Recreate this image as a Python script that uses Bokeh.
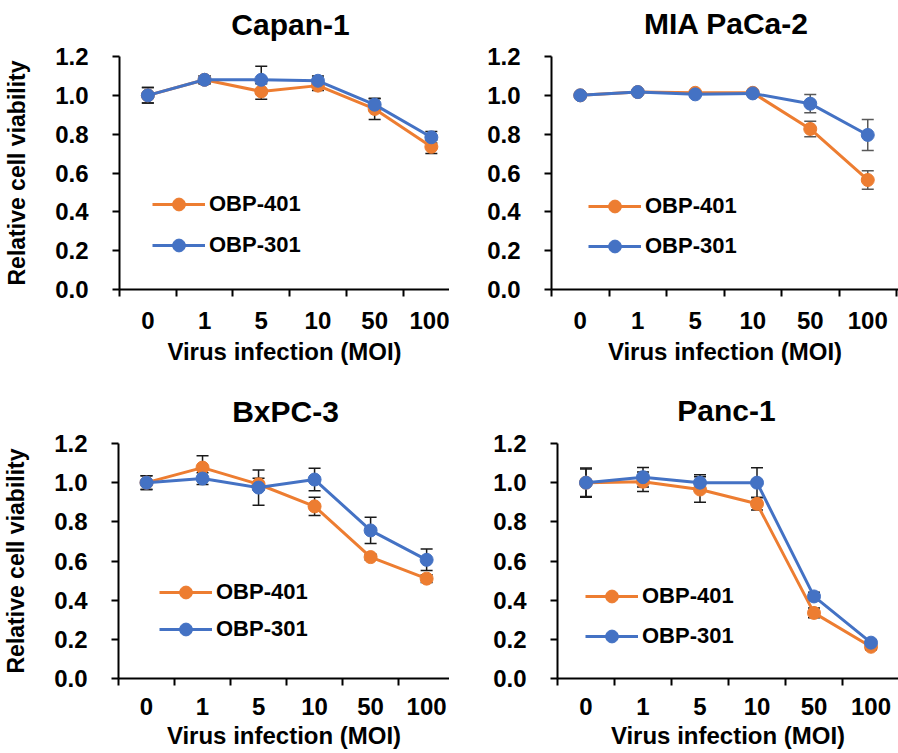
from bokeh.plotting import figure
from bokeh.models import (FixedTicker, Range1d, Legend, LegendItem, Whisker,
                          ColumnDataSource, TeeHead, PrintfTickFormatter, Label)
from bokeh.layouts import column, row
from bokeh.embed import file_html
from bokeh.resources import INLINE

# ---------------- data ----------------
moi_labels = ["0", "1", "5", "10", "50", "100"]
series_names = ["OBP-401", "OBP-301"]
y_ticks = [0.0, 0.2, 0.4, 0.6, 0.8, 1.0, 1.2]
y_max = 1.2

capan1_obp401 = [1.00, 1.08, 1.02, 1.05, 0.93, 0.735]
capan1_obp401_err = [0.04, 0.02, 0.04, 0.025, 0.055, 0.035]
capan1_obp301 = [1.00, 1.08, 1.08, 1.075, 0.952, 0.784]
capan1_obp301_err = [0.04, 0.02, 0.07, 0.025, 0.03, 0.03]

mia_obp401 = [1.00, 1.017, 1.013, 1.013, 0.827, 0.564]
mia_obp401_err = [0.01, 0.01, 0.01, 0.01, 0.04, 0.048]
mia_obp301 = [1.00, 1.017, 1.005, 1.01, 0.957, 0.796]
mia_obp301_err = [0.01, 0.01, 0.01, 0.01, 0.047, 0.08]

bxpc3_obp401 = [1.00, 1.077, 0.992, 0.879, 0.62, 0.51]
bxpc3_obp401_err = [0.035, 0.06, 0.03, 0.047, 0.015, 0.02]
bxpc3_obp301 = [1.00, 1.021, 0.975, 1.016, 0.756, 0.606]
bxpc3_obp301_err = [0.035, 0.03, 0.09, 0.057, 0.067, 0.055]

panc1_obp401 = [1.00, 1.005, 0.965, 0.892, 0.335, 0.162]
panc1_obp401_err = [0.075, 0.05, 0.065, 0.032, 0.025, 0.015]
panc1_obp301 = [1.00, 1.028, 1.00, 1.00, 0.419, 0.183]
panc1_obp301_err = [0.07, 0.05, 0.04, 0.076, 0.022, 0.015]

# ---------------- style ----------------
FONT = "Liberation Sans"
ORANGE = "#ED7D31"
BLUE = "#4472C4"


def make_title(text, width, height, x, y):
    t = figure(width=width, height=height, x_range=Range1d(0, 1), y_range=Range1d(0, 1),
               output_backend="svg", toolbar_location=None, title=None,
               x_axis_location=None, y_axis_location=None,
               min_border_left=0, min_border_right=0, min_border_top=0, min_border_bottom=0)
    t.outline_line_color = None
    t.xgrid.visible = False
    t.ygrid.visible = False
    t.add_layout(Label(x=x, y=y, x_units="screen", y_units="screen",
                       text=text, text_align="center", text_baseline="alphabetic",
                       text_font=FONT, text_font_style="bold", text_font_size="30px",
                       text_color="black"))
    return t


def make_panel(y401, e401, y301, e301, width, height, bl, bt, bb,
               cat_w, ylabel, leg_xy, leg_spacing, err_color,
               tick_standoff=15, xlab_standoff=6):
    frame_w = width - bl
    x_end = frame_w / cat_w
    p = figure(width=width, height=height,
               x_range=Range1d(0, x_end), y_range=Range1d(0, y_max),
               output_backend="svg", toolbar_location=None, title=None,
               min_border_left=bl, min_border_right=0,
               min_border_top=bt, min_border_bottom=bb)
    p.xgrid.visible = False
    p.ygrid.visible = False
    p.outline_line_color = None
    p.background_fill_color = "white"
    p.border_fill_color = "white"

    centers = [i + 0.5 for i in range(len(moi_labels))]
    renderers = []
    for yv, ev, color in ((y401, e401, ORANGE), (y301, e301, BLUE)):
        src = ColumnDataSource(dict(
            x=centers, y=yv,
            upper=[a + b for a, b in zip(yv, ev)],
            lower=[a - b for a, b in zip(yv, ev)]))
        w = Whisker(source=src, base="x", upper="upper", lower="lower",
                    line_color=err_color, line_width=1.5,
                    upper_head=TeeHead(size=12, line_color=err_color, line_width=1.5),
                    lower_head=TeeHead(size=12, line_color=err_color, line_width=1.5),
                    level="underlay")
        p.add_layout(w)
        ln = p.line("x", "y", source=src, line_color=color, line_width=3)
        sc = p.scatter("x", "y", source=src, size=13, fill_color=color,
                       line_color=color, marker="circle")
        renderers.append((ln, sc))

    # x axis: category-boundary ticks, labels at centers
    xa = p.xaxis[0]
    xa.ticker = FixedTicker(ticks=centers, minor_ticks=list(range(len(moi_labels) + 1)))
    xa.major_label_overrides = {c: lab for c, lab in zip(centers, moi_labels)}
    xa.major_tick_out = 0
    xa.major_tick_in = 0
    xa.minor_tick_out = 7
    xa.minor_tick_in = 0
    xa.minor_tick_line_width = 2
    xa.minor_tick_line_color = "black"
    xa.axis_line_width = 2
    xa.axis_line_color = "black"
    xa.major_label_text_font = FONT
    xa.major_label_text_font_style = "bold"
    xa.major_label_text_font_size = "24px"
    xa.major_label_text_color = "black"
    xa.major_label_standoff = tick_standoff
    xa.axis_label = "Virus infection (MOI)"
    xa.axis_label_text_font = FONT
    xa.axis_label_text_font_style = "bold"
    xa.axis_label_text_font_size = "24px"
    xa.axis_label_text_color = "black"
    xa.axis_label_standoff = xlab_standoff

    ya = p.yaxis[0]
    ya.ticker = FixedTicker(ticks=y_ticks)
    ya.formatter = PrintfTickFormatter(format="%.1f")
    ya.major_tick_out = 7
    ya.major_tick_in = 0
    ya.minor_tick_out = 0
    ya.minor_tick_in = 0
    ya.major_tick_line_width = 2
    ya.major_tick_line_color = "black"
    ya.axis_line_width = 2
    ya.axis_line_color = "black"
    ya.major_label_text_font = FONT
    ya.major_label_text_font_style = "bold"
    ya.major_label_text_font_size = "24px"
    ya.major_label_text_color = "black"
    ya.major_label_standoff = 24
    if ylabel:
        ya.axis_label = "Relative cell viability"
        ya.axis_label_text_font = FONT
        ya.axis_label_text_font_style = "bold"
        ya.axis_label_text_font_size = "23px"
        ya.axis_label_text_color = "black"
        ya.axis_label_standoff = 22

    legend = Legend(
        items=[LegendItem(label=series_names[0], renderers=list(renderers[0])),
               LegendItem(label=series_names[1], renderers=list(renderers[1]))],
        location=leg_xy, orientation="vertical",
        glyph_width=53, glyph_height=32, label_height=32,
        label_standoff=4, spacing=leg_spacing, padding=0, margin=0,
        border_line_alpha=0, background_fill_alpha=0,
        label_text_font=FONT, label_text_font_style="bold",
        label_text_font_size="22px", label_text_color="black")
    p.add_layout(legend)
    return p


# top row: titles (height 42) + plots (height 336)
tA = make_title("Capan-1", 449, 42, 290, 18.5)
tB = make_title("MIA PaCa-2", 449, 42, 277, 18.7)
pA = make_panel(capan1_obp401, capan1_obp401_err, capan1_obp301, capan1_obp301_err,
                width=449, height=336, bl=119, bt=14, bb=89, cat_w=56.7,
                ylabel=True, leg_xy=(33, 28), leg_spacing=9, err_color="#1a1a1a")
pB = make_panel(mia_obp401, mia_obp401_err, mia_obp301, mia_obp301_err,
                width=449, height=336, bl=102, bt=11, bb=89, cat_w=57.5,
                ylabel=False, leg_xy=(37, 27), leg_spacing=8, err_color="#595959")

# bottom row: titles (height 50) + plots (height 325)
tC = make_title("BxPC-3", 449, 50, 285, 17.5)
tD = make_title("Panc-1", 449, 50, 277, 17.8)
pC = make_panel(bxpc3_obp401, bxpc3_obp401_err, bxpc3_obp301, bxpc3_obp301_err,
                width=449, height=325, bl=114, bt=15, bb=75, cat_w=56.7,
                ylabel=True, leg_xy=(41, 33), leg_spacing=5, err_color="#1a1a1a",
                tick_standoff=12, xlab_standoff=4)
pD = make_panel(panc1_obp401, panc1_obp401_err, panc1_obp301, panc1_obp301_err,
                width=449, height=325, bl=108, bt=13, bb=75, cat_w=57.0,
                ylabel=False, leg_xy=(28, 26), leg_spacing=8, err_color="#1a1a1a",
                tick_standoff=12, xlab_standoff=4)

layout = column(row(tA, tB), row(pA, pB), row(tC, tD), row(pC, pD))
open("out.html", "w").write(file_html(layout, INLINE))
